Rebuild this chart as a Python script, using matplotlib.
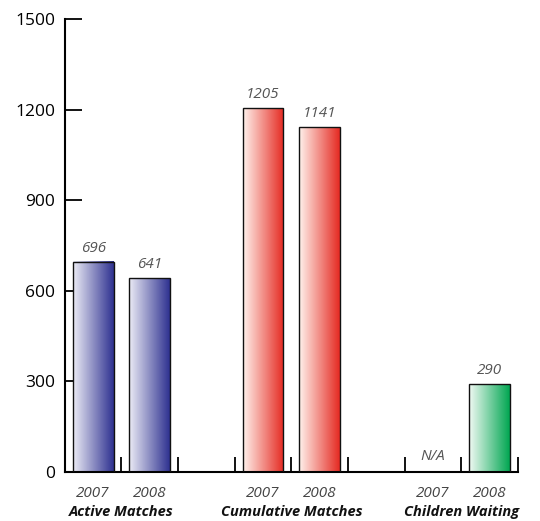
import numpy as np
import matplotlib
matplotlib.use('Agg')
import matplotlib.pyplot as plt
from matplotlib.colors import LinearSegmentedColormap

plt.rcParams['font.family'] = ['Open Sans', 'DejaVu Sans']

# dados
groups = ['Active Matches', 'Cumulative Matches', 'Children Waiting']
years = ['2007', '2008']
values = [[696, 641], [1205, 1141], [None, 290]]
value_labels = [['696', '641'], ['1205', '1141'], ['N/A', '290']]
yticks = [0, 300, 600, 900, 1200, 1500]

# cores do gradiente (claro -> escuro)
grad_colors = [('#ececf6', '#2e3190'),
               ('#fff2ec', '#e52a22'),
               ('#f2faf4', '#00a651')]

fig = plt.figure(figsize=(5.4, 5.21), dpi=100, facecolor='w')
ax = fig.add_axes([0.12, 0.094, 0.839, 0.8695])

largura = 0.72
for g in range(len(groups)):
    cmap = LinearSegmentedColormap.from_list('g%d' % g, grad_colors[g])
    for k in range(len(years)):
        slot = g * 3 + k
        xc = slot + 0.5
        v = values[g][k]
        if v is None:
            ax.text(xc, 25, value_labels[g][k], ha='center', va='bottom',
                    fontsize=11, style='italic', color='#555555')
        else:
            grad = np.linspace(0, 1, 256).reshape(1, -1)
            ax.imshow(grad, cmap=cmap, aspect='auto', interpolation='bicubic',
                      extent=(xc - largura / 2, xc + largura / 2, 0, v), zorder=2)
            ax.bar(xc, v, width=largura, fill=False, edgecolor='#111111',
                   linewidth=1.0, zorder=3)
            ax.text(xc, v + 20, value_labels[g][k], ha='center', va='bottom',
                    fontsize=11, style='italic', color='#555555')
        ax.text(xc, -70, years[k], ha='center', va='center', fontsize=11,
                style='italic', color='#444444')
    ax.text(g * 3 + 1, -133, groups[g], ha='center', va='center',
            fontsize=10.5, style='italic', fontweight='bold', color='#111111')

ax.set_xlim(0, 8)
ax.set_ylim(0, 1500)
ax.set_xticks(np.arange(1, 9))
ax.set_xticklabels([])
ax.set_yticks(yticks)
ax.set_yticklabels([str(t) for t in yticks], fontsize=12.5)
ax.tick_params(axis='x', direction='in', length=11, width=1.3)
ax.tick_params(axis='y', direction='in', length=12, width=1.3, pad=7)
for s in ['top', 'right']:
    ax.spines[s].set_visible(False)
for s in ['left', 'bottom']:
    ax.spines[s].set_linewidth(1.5)

plt.savefig('out.png', dpi=100)
